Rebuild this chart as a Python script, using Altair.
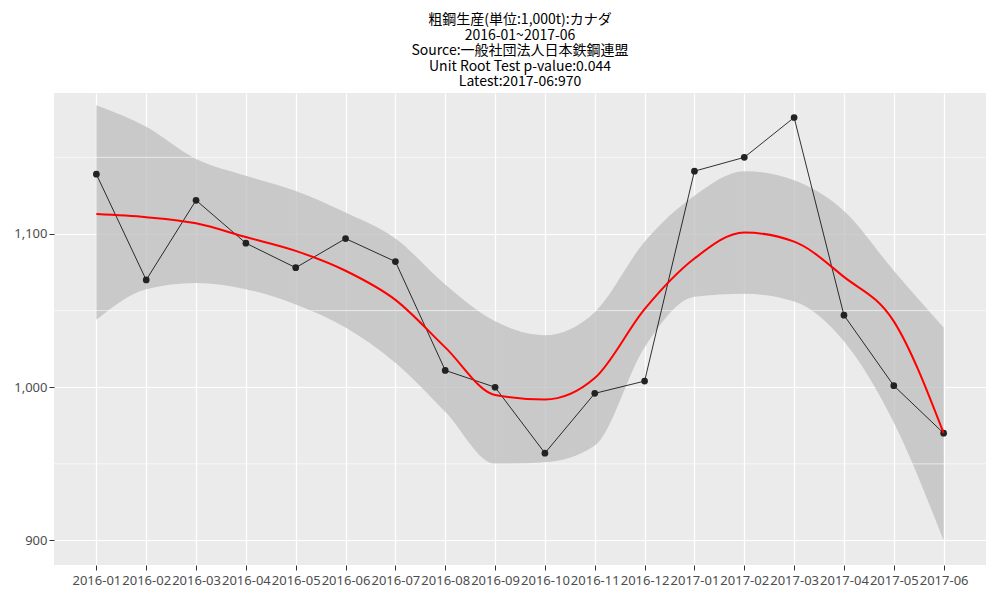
import altair as alt
import pandas as pd
import json

months = ["2016-01","2016-02","2016-03","2016-04","2016-05","2016-06","2016-07","2016-08","2016-09",
          "2016-10","2016-11","2016-12","2017-01","2017-02","2017-03","2017-04","2017-05","2017-06"]
values = [1139,1070,1122,1094,1078,1097,1082,1011,1000,957,996,1004,1141,1150,1176,1047,1001,970]
smooth = [1113,1111,1107,1098,1089,1076,1057,1026,995,992,1006,1051,1084,1101,1095,1072,1043,970]
lower = [1044,1064,1068,1064,1054,1039,1016,984,950,951,962,1026,1059,1061,1056,1030,977,900]
upper = [1184,1170,1149,1138,1128,1114,1097,1067,1043,1034,1049,1095,1125,1141,1135,1115,1076,1039]
minor = [950,1050,1150]

df = pd.DataFrame({"i": list(range(len(months))), "m": months, "v": values, "s": smooth, "lo": lower, "hi": upper})
mdf = pd.DataFrame({"y": minor})

xsc = alt.Scale(domain=[-0.85, len(months) - 1 + 0.85], nice=False, zero=False)
xax = alt.Axis(title=None, values=list(range(len(months))),
               labelExpr=json.dumps(months) + "[datum.value]",
               labelAngle=0, labelFontSize=13, labelColor="#4D4D4D", labelOverlap=False,
               tickColor="#333", gridColor="white", gridWidth=1.2, domain=False, labelPadding=4,
               labelFlush=False)
x = alt.X("i:Q", scale=xsc, axis=xax)
ysc = alt.Scale(domain=[884, 1192], nice=False, zero=False)
yax = alt.Axis(title=None, values=[900, 1000, 1100], labelFontSize=13, labelColor="#4D4D4D",
               tickColor="#333", gridColor="white", gridWidth=1.2, domain=False)

base = alt.Chart(df)
band = base.mark_area(color="#BEBEBE", opacity=0.75, interpolate="monotone").encode(
    x=x, y=alt.Y("lo:Q", scale=ysc, axis=yax), y2="hi:Q")
minor_rules = alt.Chart(mdf).mark_rule(color="white", strokeWidth=0.6).encode(y=alt.Y("y:Q", scale=ysc))
line = base.mark_line(color="black", strokeWidth=0.8).encode(x=x, y=alt.Y("v:Q", scale=ysc))
pts = base.mark_circle(color="#222", size=45, opacity=1).encode(x=x, y=alt.Y("v:Q", scale=ysc))
sm = base.mark_line(color="red", strokeWidth=2, interpolate="monotone").encode(x=x, y=alt.Y("s:Q", scale=ysc))

chart = alt.layer(band, minor_rules, line, pts, sm).properties(
    width=984, height=584,
    autosize=alt.AutoSizeParams(type="fit", contains="padding"),
    title=alt.TitleParams(["粗鋼生産(単位:1,000t):カナダ", "2016-01~2017-06", "Source:一般社団法人日本鉄鋼連盟",
                           "Unit Root Test p-value:0.044", "Latest:2017-06:970"],
                          fontSize=14, fontWeight="normal", font="Noto Sans CJK JP", lineHeight=15.5, offset=4)
).configure_view(fill="#EBEBEB", stroke=None).configure_axis(labelFont="Noto Sans")

chart.save("out.html", embed_options={"renderer": "svg", "actions": False})
